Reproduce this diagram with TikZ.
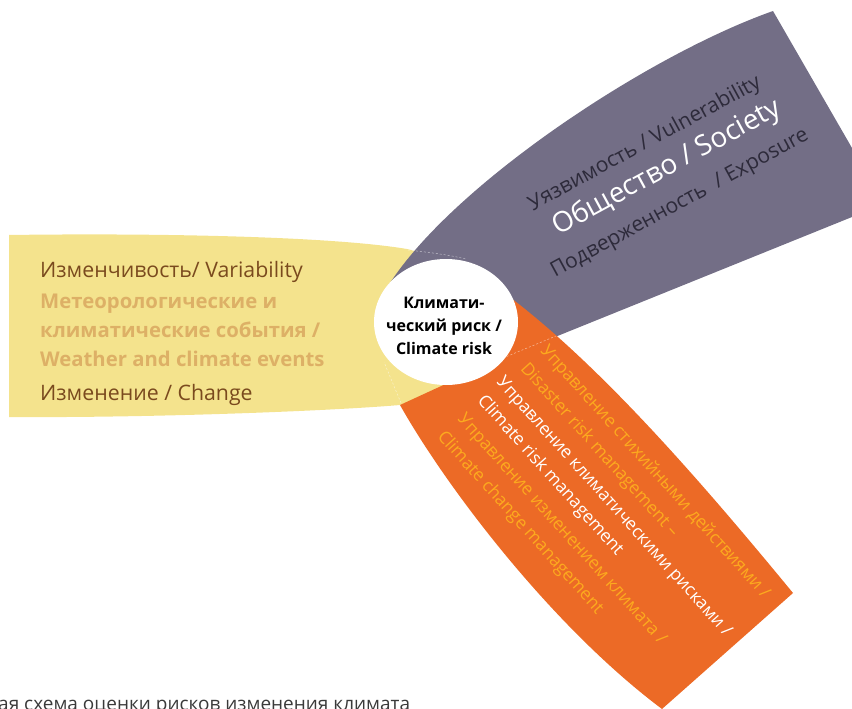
\documentclass[tikz,border=0pt]{standalone}
\usepackage{fontspec}
\setmainfont{Open Sans}
\usetikzlibrary{shapes.geometric}
\definecolor{cyel}{HTML}{F4E38D}
\definecolor{cpur}{HTML}{736E86}
\definecolor{corg}{HTML}{EC6A26}
\definecolor{cbrown}{HTML}{7A4A1E}
\definecolor{ctan}{HTML}{DDB066}
\definecolor{cdark}{HTML}{2D2A3A}
\definecolor{cgold}{HTML}{FCAA1E}
\definecolor{ccap}{HTML}{3A3A3A}
\begin{document}
\begin{tikzpicture}[x=1pt,y=-1pt,
  ytxt/.style={inner sep=0pt, anchor=base west, font=\fontsize{21.3}{24}\selectfont, text=cbrown},
  ybold/.style={inner sep=0pt, anchor=base west, font=\bfseries\fontsize{20.3}{24}\selectfont, text=ctan},
  ptxt/.style={inner sep=0pt, anchor=center, rotate=28.5, font=\fontsize{21}{24}\selectfont},
  otxt/.style={inner sep=0pt, anchor=west, rotate=-48, font=\fontsize{17.5}{22}\selectfont},
  ctxt/.style={inner sep=0pt, anchor=base, font=\bfseries\fontsize{16}{20}\selectfont, text=black},
  hid/.style={draw=white, opacity=0.55, line width=0.5pt, dash pattern=on 2pt off 2pt}]
\useasboundingbox (0,0) rectangle (852,709);
\clip (0,0) rectangle (852,709);
% yellow petal
\fill[cyel] (9,235) .. controls (150,233) and (330,236) .. (407,249) -- (420,252) -- (490,330) -- (470,385) -- (400,405) .. controls (330,411) and (150,418) .. (9,417) -- cycle;
% purple petal
\fill[cpur] (379,302) .. controls (430,200) and (640,58) .. (773,11) -- (852,148) -- (852,217) -- (503,358) -- (440,330) -- cycle;
% orange petal
\fill[corg] (400,405) -- (450,382) -- (470,330) -- (507,295) .. controls (600,365) and (700,480) .. (793,593) -- (662,709) .. controls (550,625) and (445,485) .. (400,405) -- cycle;
% faint hidden outlines
\draw[hid] (503,358) -- (556,336);
\draw[hid] (408,250) .. controls (425,252) and (445,254) .. (466,259);
\draw[hid] (401,403) -- (384,362);
% centre
\node (risk) [ellipse, fill=white, minimum width=144pt, minimum height=126pt, inner sep=0pt] at (446,322) {};
\node (c1) [ctxt] at (444,308) {Климати-};
\node (c2) [ctxt] at (444,331) {ческий риск /};
\node (c3) [ctxt] at (444,354) {Climate risk};
% yellow texts
\node (y1) [ytxt] at (40,277) {Изменчивость/ Variability};
\node (y2) [ybold] at (40,308) {Метеорологические и};
\node (y3) [ybold] at (40,337) {климатические события /};
\node (y4) [ybold] at (40,366) {Weather and climate events};
\node (y5) [ytxt] at (40,400) {Изменение / Change};
% purple texts
\node (p1) [ptxt, text=cdark] at (645,144) {Уязвимость / Vulnerability};
\node (p2) [ptxt, text=white, font=\fontsize{28}{30}\selectfont] at (667,168) {Общество / Society};
\node (p3) [ptxt, text=cdark] at (680,204) {Подверженность \ / Exposure};
% orange texts
\node (o1) [otxt, text=cgold] at (543,348) {Управление стихийными действиями /};
\node (o2) [otxt, text=cgold] at (523,366) {Disaster risk management –};
\node (o3) [otxt, text=white] at (499,380) {Управление климатическими рисками /};
\node (o4) [otxt, text=white] at (480,398) {Climate risk management};
\node (o5) [otxt, text=cgold] at (460,417) {Управление изменением климата /};
\node (o6) [otxt, text=cgold] at (440,434) {Climate change management};
% caption (cut off)
\node (cap) [inner sep=0pt, anchor=base west, font=\fontsize{19}{22}\selectfont, text=ccap] at (-2,710) {ая схема оценки рисков изменения климата};
\end{tikzpicture}
\end{document}
